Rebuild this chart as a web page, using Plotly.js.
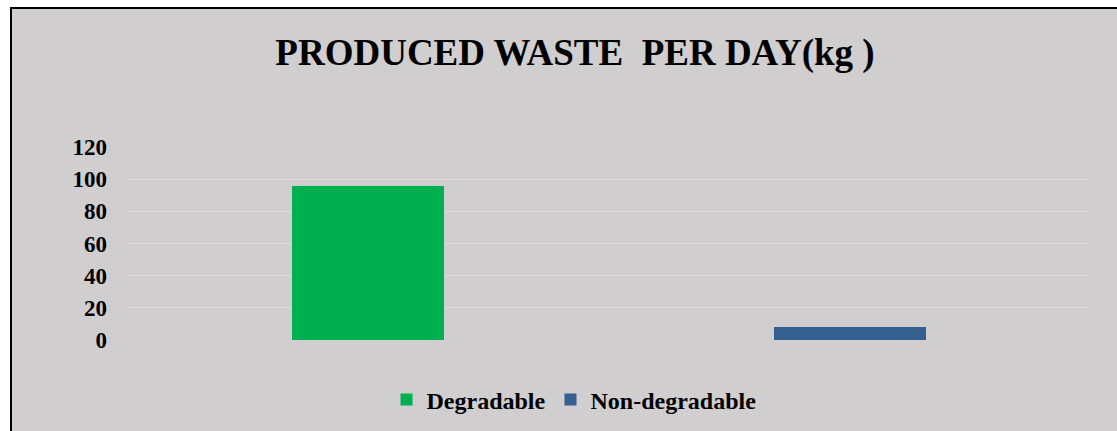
<!DOCTYPE html>
<html>
<head>
<meta charset="utf-8">
<script src="https://cdn.plot.ly/plotly-3.0.1.min.js"></script>
<style>
  html, body { margin: 0; padding: 0; background: #ffffff; }
  #frame { position: absolute; left: 10px; top: 7px; width: 1105px; height: 422px;
           border-left: 2px solid #000; border-top: 2px solid #000; background: #D0CECE; }
  #chart { width: 1105px; height: 422px; }
</style>
</head>
<body>
<div id="frame"><div id="chart"></div></div>
<script>
const categories = ["Degradable", "Non-degradable"];
const values = [96, 8];
const colors = ["#00B050", "#35608F"];
const yTicks = [0, 20, 40, 60, 80, 100, 120];
const titleText = "PRODUCED WASTE&nbsp;&nbsp;PER DAY(kg )";

const traces = categories.map((c, i) => ({
  type: "bar",
  name: c,
  x: [c],
  y: [values[i]],
  width: 0.315,
  marker: { color: colors[i] },
  hoverinfo: "x+y"
}));

const serif = "Liberation Serif, Times New Roman, serif";

const layout = {
  width: 1105,
  height: 422,
  paper_bgcolor: "#D0CECE",
  plot_bgcolor: "#D0CECE",
  font: { family: serif, color: "#000", size: 23 },
  margin: { l: 115, r: 26, t: 138, b: 91, autoexpand: false },
  title: {
    text: titleText,
    font: { family: serif, size: 37, weight: "bold", color: "#000" },
    x: 0.5095, xanchor: "center", xref: "container",
    y: 1 - 43 / 422, yanchor: "middle", yref: "container"
  },
  barmode: "overlay",
  bargap: 0,
  xaxis: {
    type: "category",
    categoryarray: categories,
    showticklabels: false,
    showgrid: false,
    zeroline: false,
    showline: false,
    ticks: ""
  },
  yaxis: {
    range: [0, 120],
    tickvals: yTicks,
    ticktext: yTicks.map(v => "<b>" + v + "</b>"),
    tickfont: { size: 23, family: serif },
    ticklabelstandoff: 19,
    showgrid: true,
    gridcolor: "#DCDCDC",
    gridwidth: 1,
    zeroline: false,
    showline: false,
    ticks: "",
    ticklen: 0
  },
  showlegend: true,
  legend: {
    orientation: "h",
    x: 0.4637, xanchor: "center", xref: "paper",
    y: -0.31, yanchor: "middle",
    font: { size: 24, weight: "bold", family: serif },
    bgcolor: "rgba(0,0,0,0)",
    itemwidth: 30,
    traceorder: "normal"
  }
};

Plotly.newPlot("chart", traces, layout, { displayModeBar: false, staticPlot: true });
</script>
</body>
</html>
